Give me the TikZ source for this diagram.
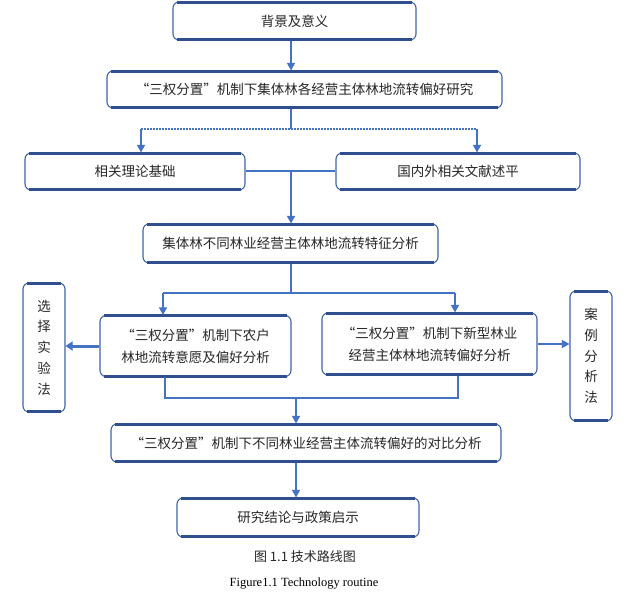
\documentclass[tikz,border=0pt]{standalone}
\usepackage{fontspec}
\setmainfont{Liberation Serif}
\newfontfamily\cjk{Noto Sans CJK SC}
\usetikzlibrary{arrows.meta,calc}
\definecolor{bordc}{HTML}{3F63A8}
\definecolor{thickc}{HTML}{2F4F8F}
\definecolor{linec}{HTML}{4472C4}
\definecolor{txtc}{HTML}{262626}
\tikzset{
  box/.style={draw=bordc, line width=1.1pt, rounded corners=6pt, inner sep=0pt,
    text=txtc, font=\cjk\fontsize{13.5}{22}\selectfont, align=center},
  vbox/.style={box, font=\cjk\fontsize{13.5}{20.8}\selectfont},
  edgeline/.style={draw=thickc, line width=3pt, line cap=butt},
  conn/.style={draw=linec, line width=1.4pt},
  arr/.style={conn, -{Triangle[length=7.5pt,width=8pt]}},
  dotl/.style={draw=linec, line width=1.4pt, dash pattern=on 2pt off 1pt},
}
\begin{document}
\begin{tikzpicture}[x=1pt,y=-1pt]
\useasboundingbox (0,0) rectangle (640,602);
\node[box, minimum width=243pt, minimum height=38pt] (b1) at (294.5,21) {背景及意义};
\node[box, minimum width=395pt, minimum height=37pt] (b2) at (304.5,89.5) {“三权分置”机制下集体林各经营主体林地流转偏好研究};
\node[box, minimum width=220pt, minimum height=37pt] (b3) at (135,171.5) {相关理论基础};
\node[box, minimum width=244pt, minimum height=37pt] (b4) at (458,171.5) {国内外相关文献述平};
\node[box, minimum width=295pt, minimum height=39pt] (b5) at (290.5,243.5) {集体林不同林业经营主体林地流转特征分析};
\node[box, minimum width=191pt, minimum height=61pt] (b6) at (195.5,346) {“三权分置”机制下农户\\林地流转意愿及偏好分析};
\node[box, minimum width=215pt, minimum height=62pt] (b7) at (429.5,344) {“三权分置”机制下新型林业\\经营主体林地流转偏好分析};
\node[vbox, minimum width=42pt, minimum height=129pt] (b8) at (44,347.5) {选\\择\\实\\验\\法};
\node[vbox, minimum width=42pt, minimum height=130pt] (b9) at (591,356) {案\\例\\分\\析\\法};
\node[box, minimum width=390pt, minimum height=38pt] (b10) at (306,443) {“三权分置”机制下不同林业经营主体流转偏好的对比分析};
\node[box, minimum width=242pt, minimum height=39pt] (b11) at (298,517.5) {研究结论与政策启示};
\node[text=txtc, font=\cjk\fontsize{13}{16}\selectfont] (cap1) at (305,557) {图 1.1 技术路线图};
\node[text=black, font=\fontsize{12.5}{15}\selectfont] (cap2) at (304,584) {Figure1.1 Technology routine};
% thick top and bottom edges of the boxes
\foreach \n in {b1,b2,b3,b4,b5,b6,b7,b8,b9,b10,b11}{
  \draw[edgeline] ([xshift=5pt,yshift=-0.6pt]\n.north west) -- ([xshift=-5pt,yshift=-0.6pt]\n.north east);
  \draw[edgeline] ([xshift=5pt,yshift=0.6pt]\n.south west) -- ([xshift=-5pt,yshift=0.6pt]\n.south east);
}
% helper coordinates
\coordinate (xa) at (291,0);
\coordinate (j1) at (291,129);
\coordinate (jl) at (141,129);
\coordinate (jr) at (477,129);
\coordinate (j2) at (291,171);
\coordinate (j3) at (291,293);
\coordinate (jl2) at (163,293);
\coordinate (jr2) at (455,293);
\coordinate (k1) at (165,398);
\coordinate (k2) at (458,398);
\coordinate (k3) at (296,398);
% connectors
\draw[arr] (b1.south -| xa) -- (b2.north -| xa);
\draw[conn] (b2.south -| xa) -- (j1);
\draw[dotl] (jl) -- (jr);
\draw[arr] (jl) -- (b3.north -| jl);
\draw[arr] (jr) -- (b4.north -| jr);
\draw[conn] (b3.east |- j2) -- (b4.west |- j2);
\draw[arr] (j2) -- (b5.north -| j2);
\draw[conn] (b5.south -| j3) -- (j3);
\draw[conn, line width=2.2pt] (jl2) -- (jr2);
\draw[arr] (jl2) -- (b6.north -| jl2);
\draw[arr] (jr2) -- (b7.north -| jr2);
\draw[draw=linec, line width=3pt, -{Triangle[length=7pt,width=9pt]}] (b6.west) -- (b8.east |- b6.west);
\draw[arr] (b7.east) -- (b9.west |- b7.east);
\draw[conn, line width=2.2pt] (b6.south -| k1) -- (k1) -- (k2) -- (b7.south -| k2);
\draw[arr] (k3) -- (b10.north -| k3);
\draw[arr] (b10.south -| k3) -- (b11.north -| k3);
\end{tikzpicture}
\end{document}
